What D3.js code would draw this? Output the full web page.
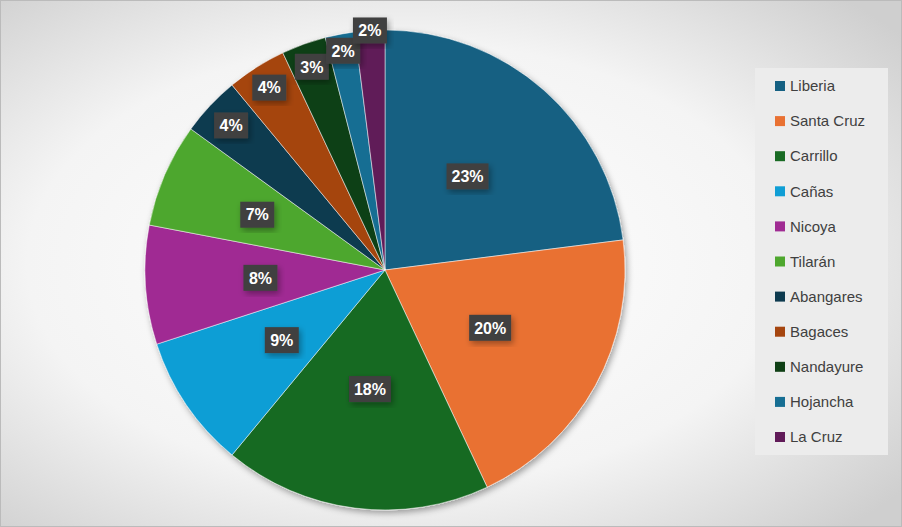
<!DOCTYPE html>
<html lang="en">
<head>
<meta charset="utf-8">
<script src="https://cdn.jsdelivr.net/npm/d3@7"></script>
<style>
  body { margin: 0; }
  text { font-family: "Liberation Sans", Arial, sans-serif; }
</style>
</head>
<body>
<script>
// data
var categories = ["Liberia", "Santa Cruz", "Carrillo", "Cañas", "Nicoya", "Tilarán",
                  "Abangares", "Bagaces", "Nandayure", "Hojancha", "La Cruz"];
var values = [23, 20, 18, 9, 8, 7, 4, 4, 3, 2, 2];
var colors = ["#156082", "#E97132", "#196B24", "#0F9ED5", "#A02B93", "#4EA72E",
              "#0D3A4F", "#A5450F", "#0F3F15", "#166E93", "#601A58"];
// how far out each label sits (fraction of radius)
var labelR = [0.52, 0.5, 0.5, 0.52, 0.52, 0.58, 0.88, 0.9, 0.9, 0.93, 1.0];

var w = 902, h = 527;
var cx = 385, cy = 270, r = 240;

var svg = d3.select("body").append("svg").attr("width", w).attr("height", h);

var defs = svg.append("defs");
var grad = defs.append("radialGradient").attr("id", "bg")
  .attr("cx", "45%").attr("cy", "50%").attr("r", "70%");
grad.append("stop").attr("offset", "0%").attr("stop-color", "#ffffff");
grad.append("stop").attr("offset", "60%").attr("stop-color", "#f4f4f4");
grad.append("stop").attr("offset", "100%").attr("stop-color", "#cfcfcf");
var sh = defs.append("filter").attr("id", "sh").attr("x", "-20%").attr("y", "-20%").attr("width", "140%").attr("height", "140%");
sh.append("feDropShadow").attr("dx", 2).attr("dy", 3).attr("stdDeviation", 3).attr("flood-opacity", 0.35);

svg.append("rect").attr("width", w).attr("height", h).attr("fill", "url(#bg)");
svg.append("rect").attr("x", 0.5).attr("y", 0.5).attr("width", w - 1).attr("height", h - 1)
  .attr("fill", "none").attr("stroke", "#bbb");

var pie = d3.pie().sort(null)(values);
var arc = d3.arc().innerRadius(0).outerRadius(r);

var g = svg.append("g").attr("transform", "translate(" + cx + "," + cy + ")");
g.append("g").attr("filter", "url(#sh)")
  .selectAll("path").data(pie).enter().append("path")
  .attr("d", arc)
  .attr("fill", (d, i) => colors[i])
  .attr("stroke", "#fff").attr("stroke-width", 0.5);

var labels = g.selectAll("g.lab").data(pie).enter().append("g").attr("class", "lab")
  .attr("transform", (d, i) => {
    var a = (d.startAngle + d.endAngle) / 2;
    var rr = r * labelR[i];
    return "translate(" + (Math.sin(a) * rr) + "," + (-Math.cos(a) * rr) + ")";
  });
labels.append("rect")
  .attr("x", d => d.data >= 10 ? -21 : -17).attr("y", -13)
  .attr("width", d => d.data >= 10 ? 42 : 34).attr("height", 26)
  .attr("fill", "#404040").attr("filter", "url(#sh)");
labels.append("text")
  .attr("text-anchor", "middle").attr("dy", "0.36em")
  .attr("fill", "#fff").attr("font-weight", "bold").attr("font-size", 16)
  .text(d => d.data + "%");

// legend
var lg = svg.append("g");
lg.append("rect").attr("x", 755).attr("y", 68).attr("width", 133).attr("height", 387)
  .attr("fill", "#ececec");
var ly = d3.scalePoint().domain(categories).range([86, 437]);
var item = lg.selectAll("g.it").data(categories).enter().append("g").attr("class", "it")
  .attr("transform", d => "translate(775," + ly(d) + ")");
item.append("rect").attr("x", 0).attr("y", -5).attr("width", 10).attr("height", 10)
  .attr("fill", (d, i) => colors[i]);
item.append("text").attr("x", 15).attr("dy", "0.35em")
  .attr("font-size", 15).attr("fill", "#404040").text(d => d);
</script>
</body>
</html>
